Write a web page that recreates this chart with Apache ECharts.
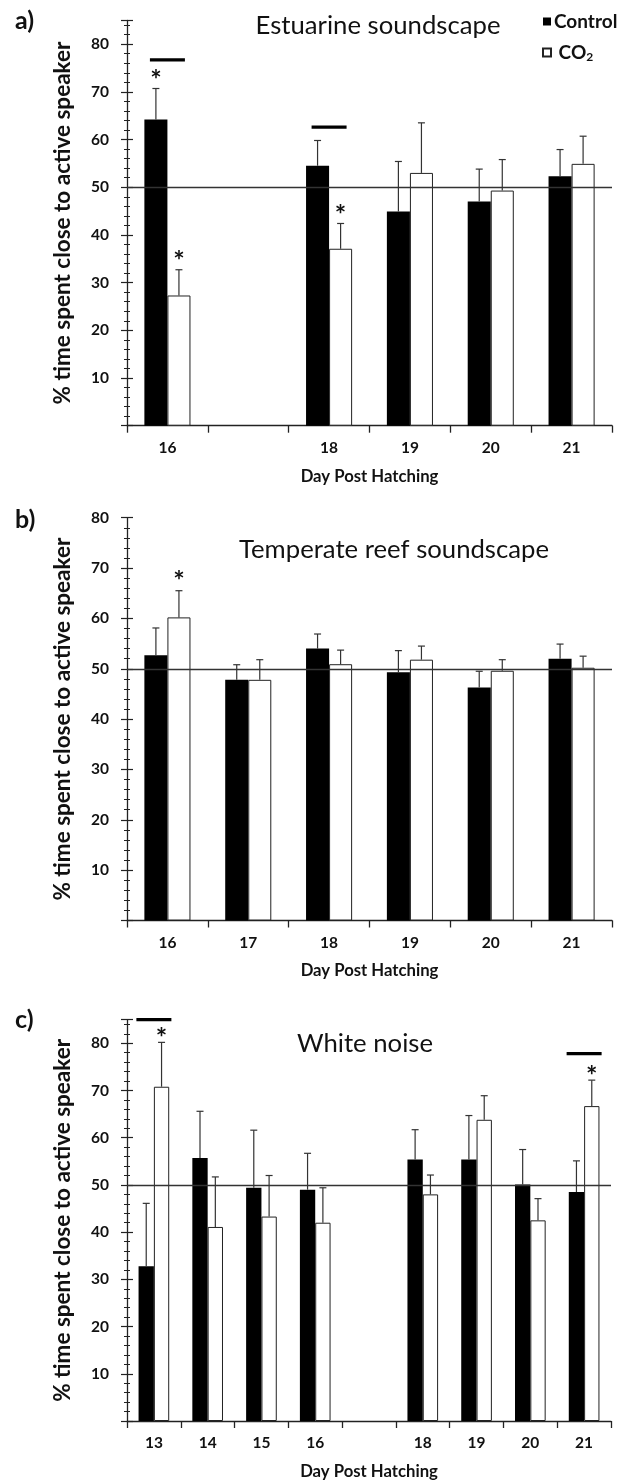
<!DOCTYPE html>
<html>
<head>
<meta charset="utf-8">
<script src="https://cdn.jsdelivr.net/npm/echarts@6/dist/echarts.min.js"></script>
<style>
  html, body { margin: 0; padding: 0; background: #fff; }
  #main { width: 623px; height: 1481px; }
</style>
</head>
<body>
<div id="main"></div>
<script>
// panel a) Estuarine soundscape
const daysA = ['16', '17', '18', '19', '20', '21'];
const ctrlA = [64.2, null, 54.5, 44.9, 47.0, 52.3];
const seCtrlA = [6.5, null, 5.3, 10.5, 6.8, 5.6];
const co2A = [27.3, null, 37.1, 53.0, 49.3, 54.9];
const seCo2A = [5.4, null, 5.3, 10.5, 6.5, 5.8];
const sigCtrlA = [1, 0, 0, 0, 0, 0];
const sigCo2A = [1, 0, 1, 0, 0, 0];
const barsA = [[0, 76.7], [2, 62.6]];

// panel b) Temperate reef soundscape
const daysB = ['16', '17', '18', '19', '20', '21'];
const ctrlB = [52.7, 47.8, 54.0, 49.3, 46.3, 52.0];
const seCtrlB = [5.4, 3.0, 2.9, 4.3, 3.2, 2.9];
const co2B = [60.2, 47.8, 50.9, 51.8, 49.6, 50.2];
const seCo2B = [5.3, 4.0, 2.8, 2.7, 2.2, 2.3];
const sigCtrlB = [0, 0, 0, 0, 0, 0];
const sigCo2B = [1, 0, 0, 0, 0, 0];
const barsB = [];

// panel c) White noise
const daysC = ['13', '14', '15', '16', '17', '18', '19', '20', '21'];
const ctrlC = [32.8, 55.7, 49.4, 49.0, null, 55.4, 55.4, 50.1, 48.5];
const seCtrlC = [13.3, 9.9, 12.2, 7.7, null, 6.3, 9.3, 7.4, 6.6];
const co2C = [70.8, 41.1, 43.3, 42.0, null, 48.0, 63.8, 42.5, 66.7];
const seCo2C = [9.4, 10.6, 8.7, 7.4, null, 4.1, 5.1, 4.6, 5.5];
const sigCtrlC = [0, 0, 0, 0, 0, 0, 0, 0, 0];
const sigCo2C = [1, 0, 0, 0, 0, 0, 0, 0, 1];
const barsC = [[0, 85], [8, 77.8]];

const yTicks = [10, 20, 30, 40, 50, 60, 70, 80];
const chance = 50;

const FONT = 'Lato';
const INK = '#111';
const AXIS = '#222';
const STAR = 27;

const panels = [
  { tag: 'a)', title: 'Estuarine soundscape', days: daysA, ctrl: ctrlA, seCtrl: seCtrlA, co2: co2A, seCo2: seCo2A,
    sigCtrl: sigCtrlA, sigCo2: sigCo2A, bars: barsA, max: 85,
    grid: { left: 127, top: 20.3, width: 485, height: 405.4 }, titleX: 378, titleY: 26, tagY: 21, starGap: 15 },
  { tag: 'b)', title: 'Temperate reef soundscape', days: daysB, ctrl: ctrlB, seCtrl: seCtrlB, co2: co2B, seCo2: seCo2B,
    sigCtrl: sigCtrlB, sigCo2: sigCo2B, bars: barsB, max: 80,
    grid: { left: 127, top: 517.7, width: 485, height: 402.8 }, titleX: 394, titleY: 550, tagY: 520, starGap: 16 },
  { tag: 'c)', title: 'White noise', days: daysC, ctrl: ctrlC, seCtrl: seCtrlC, co2: co2C, seCo2: seCo2C,
    sigCtrl: sigCtrlC, sigCo2: sigCo2C, bars: barsC, max: 85,
    grid: { left: 127, top: 1019.7, width: 484, height: 402.6 }, titleX: 365, titleY: 1044, tagY: 1020, starGap: 10.5 }
];

function errRender(params, api) {
  const i = api.value(0), mean = api.value(1), up = api.value(2);
  const sig = api.value(3), side = api.value(4), gap = api.value(5);
  const band = api.size([1, 0])[0];
  const barW = band * 0.57 / 2;
  const base = api.coord([i, mean]);
  const x = base[0] + side * barW / 2;
  const top = api.coord([i, up])[1];
  const kids = [
    { type: 'line', shape: { x1: x, y1: base[1], x2: x, y2: top }, style: { stroke: '#333', lineWidth: 1.2 } },
    { type: 'line', shape: { x1: x - 3.5, y1: top, x2: x + 3.5, y2: top }, style: { stroke: '#333', lineWidth: 1.2 } }
  ];
  if (sig) {
    // asterisk glyph sits high in its box, so push the box down a bit
    kids.push({ type: 'text', x: x, y: top - gap + STAR * 0.25,
      style: { text: '*', fill: INK, font: 'bold ' + STAR + 'px ' + FONT, align: 'center', verticalAlign: 'middle' } });
  }
  return { type: 'group', children: kids };
}

function sigLineRender(params, api) {
  const c = api.coord([api.value(0), api.value(1)]);
  return { type: 'line', shape: { x1: c[0] - 17.5, y1: c[1], x2: c[0] + 17.5, y2: c[1] },
    style: { stroke: '#000', lineWidth: 3.3 } };
}

const grids = [], xAxes = [], yAxes = [], series = [], graphics = [];

panels.forEach((p, k) => {
  grids.push(Object.assign({ containLabel: false }, p.grid));
  const lbl = { fontFamily: FONT, fontWeight: 'bold', fontSize: 15.5, color: INK };
  xAxes.push({
    type: 'category', gridIndex: k, data: p.days, boundaryGap: true,
    axisLine: { lineStyle: { color: AXIS, width: 1.3 } },
    axisTick: { show: true, interval: 0, length: 7, lineStyle: { color: AXIS, width: 1.3 } },
    axisLabel: Object.assign({ interval: 0, margin: 14, formatter: (v, i) => (p.ctrl[i] == null ? '' : v) }, lbl),
    splitLine: { show: false },
    name: 'Day Post Hatching', nameLocation: 'middle', nameGap: 42,
    nameTextStyle: { fontFamily: FONT, fontWeight: 'bold', fontSize: 16.7, color: INK }
  });
  yAxes.push({
    type: 'value', gridIndex: k, min: 0, max: p.max, interval: 10,
    axisLine: { show: true, lineStyle: { color: AXIS, width: 1.3 } },
    axisTick: { show: true, length: 6, lineStyle: { color: AXIS, width: 1.2 } },
    minorTick: { show: true, splitNumber: 5, length: 3, lineStyle: { color: AXIS, width: 1 } },
    splitLine: { show: false },
    axisLabel: Object.assign({ margin: 18, formatter: v => (yTicks.indexOf(v) >= 0 ? String(v) : '') }, lbl),
    name: '% time spent close to active speaker', nameLocation: 'middle', nameGap: 53,
    nameTextStyle: { fontFamily: FONT, fontWeight: 'bold', fontSize: 22.5, color: INK }
  });
  // inner half of the crossing ticks
  yAxes.push({
    type: 'value', gridIndex: k, min: 0, max: p.max, interval: 10, position: 'right', offset: -p.grid.width,
    axisLine: { show: false }, axisLabel: { show: false }, splitLine: { show: false },
    axisTick: { show: true, length: 6, lineStyle: { color: AXIS, width: 1.2 } },
    minorTick: { show: true, splitNumber: 5, length: 3, lineStyle: { color: AXIS, width: 1 } }
  });

  const yi = k * 2;
  series.push({
    name: 'Control', type: 'bar', xAxisIndex: k, yAxisIndex: yi, data: p.ctrl,
    barGap: '0%', barCategoryGap: '43%', itemStyle: { color: '#000' }, z: 2,
    markLine: { silent: true, symbol: 'none', label: { show: false }, data: [{ yAxis: chance }],
      lineStyle: { color: '#333', width: 1.3, type: 'solid' }, emphasis: { disabled: true } }
  });
  series.push({
    name: 'CO2', type: 'bar', xAxisIndex: k, yAxisIndex: yi, data: p.co2,
    barGap: '0%', barCategoryGap: '43%', itemStyle: { color: '#fff', borderColor: '#222', borderWidth: 1 }, z: 2
  });

  const err = [];
  p.days.forEach((d, i) => {
    if (p.ctrl[i] != null) err.push([i, p.ctrl[i], p.ctrl[i] + p.seCtrl[i], p.sigCtrl[i], -1, p.starGap]);
    if (p.co2[i] != null) err.push([i, p.co2[i], p.co2[i] + p.seCo2[i], p.sigCo2[i], 1, p.starGap]);
  });
  series.push({
    type: 'custom', xAxisIndex: k, yAxisIndex: yi, data: err, renderItem: errRender,
    encode: { x: 0, y: [1, 2] }, z: 5, silent: true
  });
  if (p.bars.length) {
    series.push({
      type: 'custom', xAxisIndex: k, yAxisIndex: yi, data: p.bars, renderItem: sigLineRender,
      encode: { x: 0, y: 1 }, z: 5, silent: true
    });
  }

  graphics.push({ type: 'text', x: 15, y: p.tagY,
    style: { text: p.tag, font: 'bold 25px ' + FONT, fill: INK, align: 'left', verticalAlign: 'middle' } });
  graphics.push({ type: 'text', x: p.titleX, y: p.titleY,
    style: { text: p.title, font: '25.7px ' + FONT, fill: INK, align: 'center', verticalAlign: 'middle' } });
});

const chart = echarts.init(document.getElementById('main'), null, { renderer: 'canvas' });
chart.setOption({
  animation: false,
  backgroundColor: '#fff',
  grid: grids,
  xAxis: xAxes,
  yAxis: yAxes,
  legend: {
    data: ['Control', 'CO2'], orient: 'vertical', left: 537, top: 7,
    icon: 'rect', itemWidth: 8, itemHeight: 8, itemGap: 12,
    selectedMode: false,
    textStyle: {
      fontFamily: FONT, fontWeight: 'bold', fontSize: 19, color: INK, padding: [0, 0, 0, -2],
      rich: { sub: { fontFamily: FONT, fontWeight: 'bold', fontSize: 12, color: INK, padding: [9, 0, 0, 0] } }
    },
    formatter: name => (name === 'CO2' ? ' CO{sub|2}' : name)
  },
  graphic: graphics,
  series: series
});
</script>
</body>
</html>
